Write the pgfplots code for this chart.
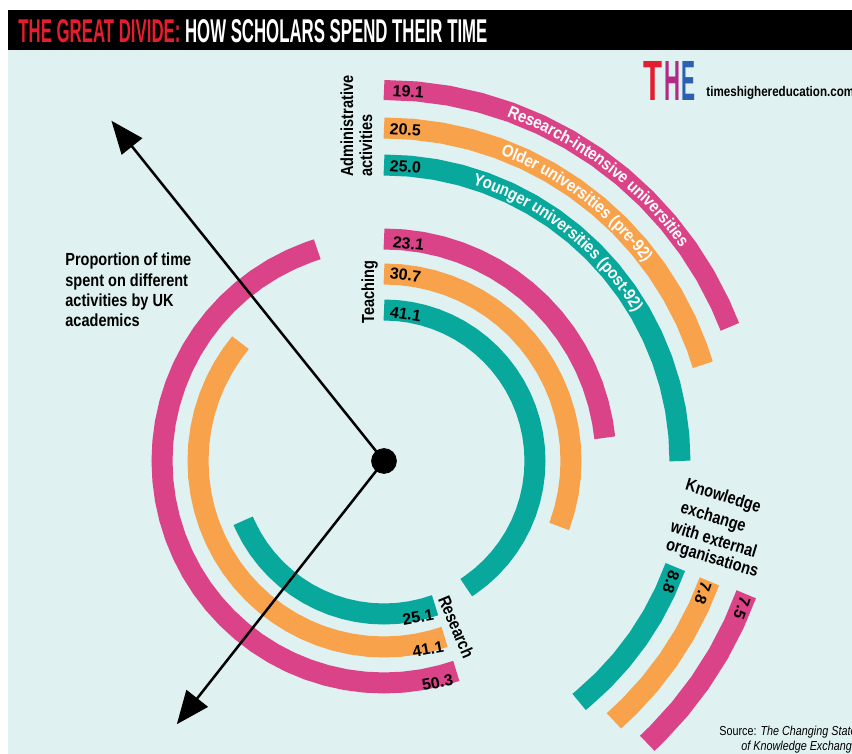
\documentclass[border=0pt]{standalone}
\usepackage{pgfplots}
\pgfplotsset{compat=1.18}
\usepgfplotslibrary{polar}
\usetikzlibrary{decorations.text,arrows.meta}
\usepackage{fontspec}
\setmainfont{Liberation Sans}
\newfontfamily\cond{Liberation Sans}[FakeStretch=0.83]
\newfontfamily\arcf{Liberation Sans}[FakeStretch=0.88]
\definecolor{bg}{RGB}{223,241,240}
\definecolor{pk}{RGB}{219,67,137}
\definecolor{og}{RGB}{248,163,76}
\definecolor{tl}{RGB}{8,168,157}
\definecolor{thered}{RGB}{228,30,48}
\definecolor{thepurple}{RGB}{178,42,132}
\definecolor{theblue}{RGB}{44,96,176}
\tikzset{arctext/.style n args={2}{postaction={decorate},
  decoration={text along path, raise=-2.6pt, text align={left indent=#1},
  text={|\arcf\bfseries\fontsize{8.5pt}{8.5pt}\selectfont\color{white}|#2}}}}
\newcommand{\lab}{\cond\bfseries\fontsize{8.75pt}{10pt}\selectfont}
\newcommand{\num}{\bfseries\fontsize{8pt}{8pt}\selectfont}
\begin{document}
\begin{tikzpicture}
\useasboundingbox (0,0) rectangle (426pt,377pt);
\begin{scope}
\clip (0,0) rectangle (426pt,377pt);
\begin{scope}[x=0.5pt,y=-0.5pt,shift={(0pt,377pt)}]
\fill[white] (0,0) rectangle (852,754);
\fill[bg] (8,50) rectangle (852,754);
\fill[black] (8,10) rectangle (852,50);
\node[anchor=base west, inner sep=0] at (18,42.5) {\resizebox{234.5pt}{11.5pt}{\bfseries\color{thered}THE GREAT DIVIDE: \color{white}HOW SCHOLARS SPEND THEIR TIME}};
\node[anchor=base west, inner sep=0] at (643,101) {\resizebox{9.5pt}{19.5pt}{\bfseries\color{thered}T}};
\node[anchor=base west, inner sep=0] at (664,101) {\resizebox{8pt}{19.5pt}{\bfseries\color{thepurple}H}};
\node[anchor=base west, inner sep=0] at (681.5,101) {\resizebox{7pt}{19.5pt}{\bfseries\color{theblue}E}};
\node[anchor=base west, inner sep=0] at (706,97) {\cond\bfseries\fontsize{7pt}{8pt}\selectfont timeshighereducation.com};
\end{scope}

\begin{polaraxis}[at={(192pt,146.5pt)}, anchor=center, scale only axis,
  width=300pt, height=300pt, xmin=0, xmax=360, ymin=0, ymax=300,
  hide axis, clip=false]
% Administrative activities
\addplot[pk, line width=10pt, arctext={63.5pt}{Research-intensive universities}] coordinates {(90,371)(85,371)(80,371)(75,371)(70,371)(65,371)(60,371)(55,371)(50,371)(45,371)(40,371)(35,371)(30,371)(25,371)(21.2,371)};
\addplot[og, line width=10.5pt, arctext={60.5pt}{Older universities (pre-92)}] coordinates {(90,333)(85,333)(80,333)(75,333)(70,333)(65,333)(60,333)(55,333)(50,333)(45,333)(40,333)(35,333)(30,333)(25,333)(20,333)(16.8,333)};
\addplot[tl, line width=10.5pt, arctext={45.7pt}{Younger universities (post-92)}] coordinates {(90,296)(85,296)(80,296)(75,296)(70,296)(65,296)(60,296)(55,296)(50,296)(45,296)(40,296)(35,296)(30,296)(25,296)(20,296)(15,296)(10,296)(5,296)(0,296)};
% Teaching
\addplot[pk, line width=10.5pt] coordinates {(90,222)(85,222)(80,222)(75,222)(70,222)(65,222)(60,222)(55,222)(50,222)(45,222)(40,222)(35,222)(30,222)(25,222)(20,222)(15,222)(10,222)(6,222)};
\addplot[og, line width=10.5pt] coordinates {(90,187)(85,187)(80,187)(75,187)(70,187)(65,187)(60,187)(55,187)(50,187)(45,187)(40,187)(35,187)(30,187)(25,187)(20,187)(15,187)(10,187)(5,187)(0,187)(-5,187)(-10,187)(-15,187)(-20,187)(-20.5,187)};
\addplot[tl, line width=10.5pt] coordinates {(90,151)(85,151)(80,151)(75,151)(70,151)(65,151)(60,151)(55,151)(50,151)(45,151)(40,151)(35,151)(30,151)(25,151)(20,151)(15,151)(10,151)(5,151)(0,151)(-5,151)(-10,151)(-15,151)(-20,151)(-25,151)(-30,151)(-35,151)(-40,151)(-45,151)(-50,151)(-55,151)(-57,151)};
% Research
\addplot[pk, line width=10.5pt] coordinates {(107.5,222)(110,222)(115,222)(120,222)(125,222)(130,222)(135,222)(140,222)(145,222)(150,222)(155,222)(160,222)(165,222)(170,222)(175,222)(180,222)(185,222)(190,222)(195,222)(200,222)(205,222)(210,222)(215,222)(220,222)(225,222)(230,222)(235,222)(240,222)(245,222)(250,222)(255,222)(260,222)(265,222)(270,222)(275,222)(280,222)(285,222)(289,222)};
\addplot[og, line width=10.5pt] coordinates {(140.5,186)(145,186)(150,186)(155,186)(160,186)(165,186)(170,186)(175,186)(180,186)(185,186)(190,186)(195,186)(200,186)(205,186)(210,186)(215,186)(220,186)(225,186)(230,186)(235,186)(240,186)(245,186)(250,186)(255,186)(260,186)(265,186)(270,186)(275,186)(280,186)(285,186)(289,186)};
\addplot[tl, line width=10.5pt] coordinates {(203,153)(205,153)(210,153)(215,153)(220,153)(225,153)(230,153)(235,153)(240,153)(245,153)(250,153)(255,153)(260,153)(265,153)(270,153)(275,153)(280,153)(285,153)(289.5,153)};
% Knowledge exchange
\addplot[tl, line width=10.5pt] coordinates {(-20,310)(-25,310)(-30,310)(-35,310)(-40,310)(-45,310)(-50,310)(-51,310)};
\addplot[og, line width=10.5pt] coordinates {(-20.3,347)(-25,347)(-30,347)(-35,347)(-40,347)(-45,347)(-48.5,347)};
\addplot[pk, line width=10.5pt] coordinates {(-20.2,386)(-25,386)(-30,386)(-35,386)(-40,386)(-45,386)(-47,386)};
% arrows and centre
\addplot[black, line width=1.25pt, -{Triangle[length=16.5pt,width=13pt]}] coordinates {(128.7,0)(128.7,436)};
\addplot[black, line width=1.25pt, -{Triangle[length=16.5pt,width=13.5pt]}] coordinates {(231.8,0)(231.8,335)};
\addplot[only marks, mark=*, mark size=6.2pt, black] coordinates {(0,0)};
\end{polaraxis}

\begin{scope}[x=0.5pt,y=-0.5pt,shift={(0pt,377pt)}]
\node[anchor=base west, inner sep=0] at (65,266) {\lab Proportion of time};
\node[anchor=base west, inner sep=0] at (65,286.5) {\lab spent on different};
\node[anchor=base west, inner sep=0] at (65,307) {\lab activities by UK};
\node[anchor=base west, inner sep=0] at (65,327) {\lab academics};
\node[anchor=base west, inner sep=0, rotate=90] at (353,177) {\lab Administrative};
\node[anchor=base west, inner sep=0, rotate=90] at (372,177) {\lab activities};
\node[anchor=base west, inner sep=0, rotate=90] at (374,324) {\lab Teaching};
\node[anchor=center, inner sep=0, rotate=-67] at (456.5,627) {\lab Research};
\node[anchor=center, inner sep=0, rotate=-17] at (723,497) {\lab Knowledge};
\node[anchor=center, inner sep=0, rotate=-17] at (713,518) {\lab exchange};
\node[anchor=center, inner sep=0, rotate=-17] at (714,539) {\lab with external};
\node[anchor=center, inner sep=0, rotate=-17] at (712,559) {\lab organisations};
% numbers
\node[anchor=base west, inner sep=0, rotate=-3.7] at (392,96) {\num 19.1};
\node[anchor=base west, inner sep=0, rotate=-4.1] at (389,134) {\num 20.5};
\node[anchor=base west, inner sep=0, rotate=-4.6] at (389,171) {\num 25.0};
\node[anchor=base west, inner sep=0, rotate=-6.2] at (392,247.5) {\num 23.1};
\node[anchor=base west, inner sep=0, rotate=-7.4] at (389,278.5) {\num 30.7};
\node[anchor=base west, inner sep=0, rotate=-9.3] at (389,317) {\num 41.1};
\node[anchor=center, inner sep=0, rotate=10] at (418,617) {\num 25.1};
\node[anchor=center, inner sep=0, rotate=10] at (428,649) {\num 41.1};
\node[anchor=center, inner sep=0, rotate=10] at (437.5,682.5) {\num 50.3};
\node[anchor=center, inner sep=0, rotate=-110] at (671,582) {\num 8.8};
\node[anchor=center, inner sep=0, rotate=-110] at (703,593) {\num 7.8};
\node[anchor=center, inner sep=0, rotate=-110] at (742,608) {\num 7.5};
% source
\node[anchor=base west, inner sep=0] at (719,736) {\cond\fontsize{6.5pt}{7pt}\selectfont Source: \itshape The Changing State};
\node[anchor=base west, inner sep=0] at (741,751) {\cond\itshape\fontsize{6.5pt}{7pt}\selectfont of Knowledge Exchange};
\end{scope}
\end{scope}
\end{tikzpicture}
\end{document}
